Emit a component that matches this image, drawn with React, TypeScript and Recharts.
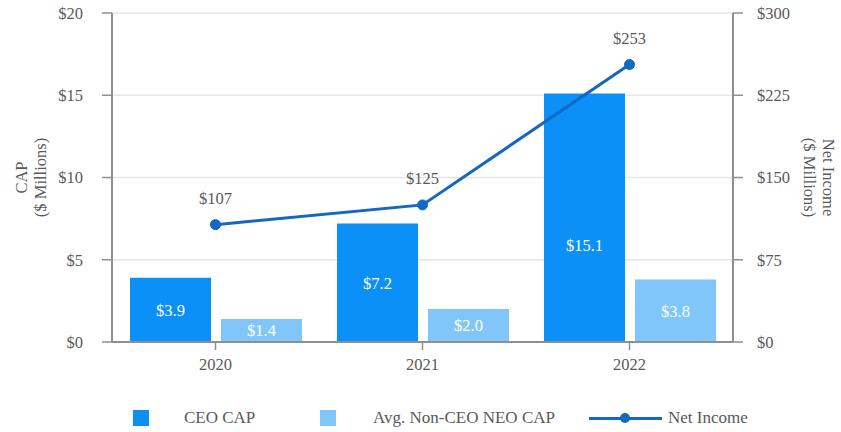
import {
    ComposedChart,
    Bar,
    Line,
    XAxis,
    YAxis,
    CartesianGrid,
    Legend,
    LabelList,
} from "recharts";

const years = ["2020", "2021", "2022"];
const ceoCap = [3.9, 7.2, 15.1];
const neoCap = [1.4, 2.0, 3.8];
const netIncome = [107, 125, 253];
const leftTicks = [0, 5, 10, 15, 20];
const rightTicks = [0, 75, 150, 225, 300];

const data = years.map((year, i) => ({
    year,
    ceo: ceoCap[i],
    neo: neoCap[i],
    income: netIncome[i],
}));

const FONT = "Liberation Serif, Times New Roman, serif";
const TEXT = "#595959";
const AXIS = "#8f8f8f";
const CEO_COLOR = "#0A90F7";
const NEO_COLOR = "#80C6FA";
const LINE_COLOR = "#1268C3";

const tickStyle = { fill: TEXT, fontSize: 16.5, fontFamily: FONT };

// white value label in the bar, kept near the base for tall bars
const barLabel = (props: any) => {
    const { x, y, width, height, value } = props;
    const bottom = y + height;
    const cy = Math.max(y + height / 2, bottom - 97);
    return (
        <text
            x={x + width / 2}
            y={cy}
            dy="0.35em"
            textAnchor="middle"
            fill="#ffffff"
            style={{ fontSize: 16.5, fontFamily: FONT }}
        >
            ${Number(value).toFixed(1)}
        </text>
    );
};

const axisTitle = (lines: string[], side: "left" | "right") => (props: any) => {
    const { viewBox } = props;
    const cy = viewBox.y + viewBox.height / 2;
    const cx = side === "left" ? 31 : 819;
    const rot = side === "left" ? -90 : 90;
    return (
        <text
            transform={`translate(${cx},${cy}) rotate(${rot})`}
            textAnchor="middle"
            fill={TEXT}
            style={{ fontSize: 16.5, fontFamily: FONT }}
        >
            <tspan x={0} dy="-0.25em">{lines[0]}</tspan>
            <tspan x={0} dy="1.15em">{lines[1]}</tspan>
        </text>
    );
};

const renderLegend = () => {
    const text = { position: "absolute" as const, top: 0, fontSize: 17, color: TEXT, fontFamily: FONT, lineHeight: "16px", whiteSpace: "nowrap" as const };
    return (
        <div style={{ position: "relative", width: 841, height: 16 }}>
            <div style={{ position: "absolute", left: 133, top: 0, width: 16, height: 16, background: CEO_COLOR }} />
            <span style={{ ...text, left: 184 }}>CEO CAP</span>
            <div style={{ position: "absolute", left: 320, top: 0, width: 16, height: 16, background: NEO_COLOR }} />
            <span style={{ ...text, left: 373 }}>Avg. Non-CEO NEO CAP</span>
            <div style={{ position: "absolute", left: 589, top: 6.5, width: 73, height: 3, background: LINE_COLOR }} />
            <div style={{ position: "absolute", left: 620, top: 3, width: 10, height: 10, borderRadius: 5, background: LINE_COLOR }} />
            <span style={{ ...text, left: 668 }}>Net Income</span>
        </div>
    );
};

export default function App() {
    return (
        <div style={{ position: "absolute", left: 0, top: 0, width: 841, height: 432, background: "#fff", fontFamily: FONT }}>
            <ComposedChart
                width={841}
                height={432}
                data={data}
                margin={{ top: 13, right: 48, bottom: 60, left: 52 }}
                barSize={81}
                barGap={10}
            >
                <CartesianGrid yAxisId="left" vertical={false} stroke="#e6e6e6" strokeWidth={1.5} />
                <XAxis
                    dataKey="year"
                    height={30}
                    tick={tickStyle}
                    tickSize={8}
                    tickMargin={8}
                    axisLine={{ stroke: AXIS, strokeWidth: 2 }}
                    tickLine={{ stroke: AXIS, strokeWidth: 1.5 }}
                />
                <YAxis
                    yAxisId="left"
                    width={60}
                    domain={[0, 20]}
                    ticks={leftTicks}
                    tickFormatter={(v) => `$${v}`}
                    tick={tickStyle}
                    tickSize={10}
                    tickMargin={19}
                    axisLine={{ stroke: AXIS, strokeWidth: 2 }}
                    tickLine={{ stroke: AXIS, strokeWidth: 1.5 }}
                    label={{ content: axisTitle(["CAP", "($ Millions)"], "left") }}
                />
                <YAxis
                    yAxisId="right"
                    orientation="right"
                    width={60}
                    domain={[0, 300]}
                    ticks={rightTicks}
                    tickFormatter={(v) => `$${v}`}
                    tick={tickStyle}
                    tickSize={10}
                    tickMargin={14}
                    axisLine={{ stroke: AXIS, strokeWidth: 2 }}
                    tickLine={{ stroke: AXIS, strokeWidth: 1.5 }}
                    label={{ content: axisTitle(["Net Income", "($ Millions)"], "right") }}
                />
                <Bar yAxisId="left" dataKey="ceo" name="CEO CAP" fill={CEO_COLOR} isAnimationActive={false}>
                    <LabelList dataKey="ceo" content={barLabel} />
                </Bar>
                <Bar yAxisId="left" dataKey="neo" name="Avg. Non-CEO NEO CAP" fill={NEO_COLOR} isAnimationActive={false}>
                    <LabelList dataKey="neo" content={barLabel} />
                </Bar>
                <Line
                    yAxisId="right"
                    dataKey="income"
                    name="Net Income"
                    stroke={LINE_COLOR}
                    strokeWidth={3}
                    dot={{ r: 5, fill: LINE_COLOR, stroke: LINE_COLOR, strokeWidth: 1 }}
                    isAnimationActive={false}
                >
                    <LabelList
                        dataKey="income"
                        position="top"
                        offset={21}
                        formatter={(v: any) => `$${v}`}
                        fill={TEXT}
                        style={{ fontSize: 16.5, fontFamily: FONT }}
                    />
                </Line>
                <Legend
                    verticalAlign="middle"
                    content={renderLegend}
                    wrapperStyle={{ top: 410, left: 0, width: 841 }}
                />
            </ComposedChart>
        </div>
    );
}
